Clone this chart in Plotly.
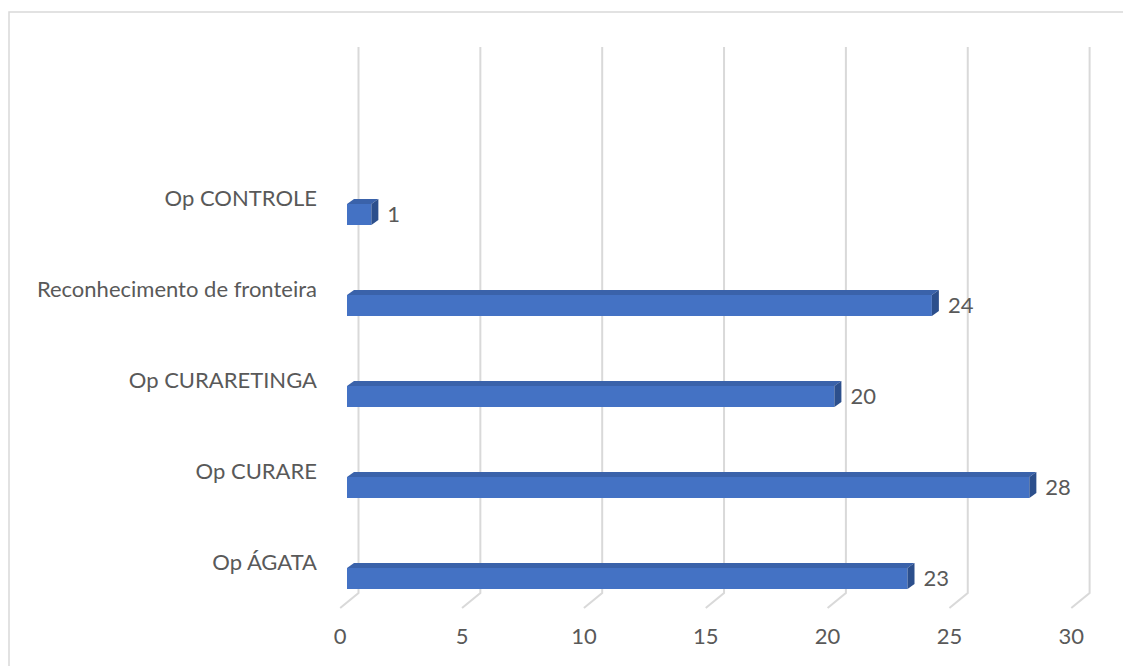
import plotly.graph_objects as go

# ---- data ----
categories = ["Op ÁGATA", "Op CURARE", "Op CURARETINGA", "Reconhecimento de fronteira", "Op CONTROLE"]
values = [23, 28, 20, 24, 1]
x_ticks = [0, 5, 10, 15, 20, 25, 30]

# ---- styling / geometry (screen-pixel based) ----
W, H = 1131, 666
OFF = 8             # page body margin
FW, FH = W - OFF, H - OFF
PX = 24.37          # px per x unit
X0 = 347            # screen px of x=0 (bar front)
PY = 91.0           # px per category
Y_TOP_CAT = 214.5   # screen px of centre of last category
FONT = "Lato"
FS = 22
TXT = "#595959"
GRID = "#d9d9d9"
FRONT = "#4472C4"
TOP = "#3A62AA"
SIDE = "#2C4F8C"

n = len(categories)
xr = [(OFF - X0) / PX, (W - X0) / PX]
ytop = (n - 1) + (Y_TOP_CAT - OFF) / PY
yr = [ytop - FH / PY, ytop]

def py(sy):
    return ytop - (sy - OFF) / PY

dxu = lambda p: p / PX
dyu = lambda p: p / PY

fig = go.Figure()

# grid lines (back wall + floor diagonal) as shapes below the bars
shapes = []
for k in x_ticks:
    xb, xf = k + dxu(11.5), k - dxu(6.8)
    shapes.append(dict(type="path", xref="x", yref="y", layer="below",
                       path=f"M {xb},{py(47)} L {xb},{py(593)} L {xf},{py(608)}",
                       line=dict(color=GRID, width=2)))
shapes.append(dict(type="rect", xref="paper", yref="paper", x0=1 / FW, x1=1.05, y0=-0.05,
                   y1=1 - (12 - OFF) / FH, line=dict(color=GRID, width=1.5),
                   fillcolor="rgba(0,0,0,0)", layer="below"))

bar_h = dyu(21)
ypos = list(range(n))
fig.add_trace(go.Bar(x=values, y=ypos, orientation="h", width=bar_h,
                     marker=dict(color=FRONT, line=dict(width=0)), showlegend=False,
                     hoverinfo="x"))

ddx, ddy = dxu(7), dyu(5)
for v, yc in zip(values, ypos):
    t = yc + bar_h / 2
    b = yc - bar_h / 2
    fig.add_trace(go.Scatter(x=[0, v, v + ddx, ddx, 0], y=[t, t, t + ddy, t + ddy, t],
                             fill="toself", fillcolor=TOP, mode="lines", line=dict(width=0, color=TOP),
                             hoverinfo="skip", showlegend=False))
    fig.add_trace(go.Scatter(x=[v, v + ddx, v + ddx, v, v], y=[b, b + ddy, t + ddy, t, b],
                             fill="toself", fillcolor=SIDE, mode="lines", line=dict(width=0, color=SIDE),
                             hoverinfo="skip", showlegend=False))

# value labels
fig.add_trace(go.Scatter(x=[v + dxu(16) for v in values], y=[yc - dyu(2) for yc in ypos],
                         mode="text", text=[str(v) for v in values], textposition="middle right",
                         textfont=dict(family=FONT, size=FS, color=TXT),
                         hoverinfo="skip", showlegend=False))

# dummy trace to activate xaxis2
fig.add_trace(go.Scatter(x=[0], y=[None], xaxis="x2", mode="markers", showlegend=False, hoverinfo="skip"))

fig.update_layout(
    width=FW, height=FH,
    margin=dict(l=0, r=0, t=0, b=0),
    paper_bgcolor="white", plot_bgcolor="rgba(0,0,0,0)",
    xaxis=dict(range=xr, domain=[0, 1], showgrid=False, zeroline=False, showticklabels=False,
               showline=False, fixedrange=True),
    xaxis2=dict(range=[xr[0] + dxu(6.8), xr[1] + dxu(6.8)], overlaying="x", anchor="free",
                position=1 - (621 - OFF) / FH, side="bottom", tickvals=x_ticks, showgrid=False,
                zeroline=False, showline=False, ticks="",
                tickfont=dict(family=FONT, size=FS, color=TXT)),
    yaxis=dict(range=yr, domain=[0, 1], showgrid=False, zeroline=False, showline=False,
               tickvals=[yc + dyu(16) for yc in ypos], ticktext=categories, ticks="",
               anchor="free", position=(317 - OFF) / FW,
               tickfont=dict(family=FONT, size=FS, color=TXT)),
    shapes=shapes,
)

fig.write_html("out.html")
